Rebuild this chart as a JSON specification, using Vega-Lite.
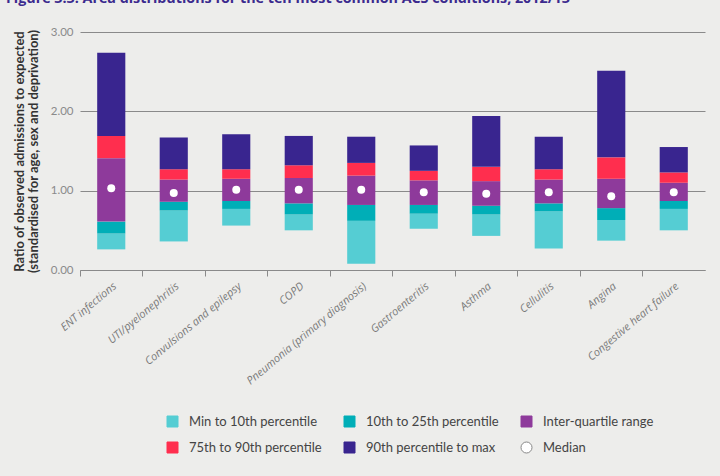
{
  "$schema": "https://vega.github.io/schema/vega-lite/v6.json",
  "width": 625,
  "height": 238,
  "autosize": "none",
  "padding": {"left": 80, "top": 32, "right": 15, "bottom": 206},
  "background": "#EDEDEB",
  "title": {
    "text": "Figure 3.3: Area distributions for the ten most common ACS conditions, 2012/13",
    "anchor": "start",
    "frame": "group",
    "offset": 20,
    "dx": -74,
    "font": "Open Sans",
    "fontSize": 14.3,
    "fontWeight": "bold",
    "color": "#3B2A8E"
  },
  "config": {
    "view": {"stroke": null},
    "font": "Lato"
  },
  "datasets": {
    "bars": [
      {"c": "ENT infections", "s": "Min to 10th percentile", "lo": 0.26, "hi": 0.46},
      {"c": "ENT infections", "s": "10th to 25th percentile", "lo": 0.46, "hi": 0.61},
      {"c": "ENT infections", "s": "Inter-quartile range", "lo": 0.61, "hi": 1.41},
      {"c": "ENT infections", "s": "75th to 90th percentile", "lo": 1.41, "hi": 1.69},
      {"c": "ENT infections", "s": "90th percentile to max", "lo": 1.69, "hi": 2.74},
      {"c": "UTI/pyelonephritis", "s": "Min to 10th percentile", "lo": 0.36, "hi": 0.75},
      {"c": "UTI/pyelonephritis", "s": "10th to 25th percentile", "lo": 0.75, "hi": 0.86},
      {"c": "UTI/pyelonephritis", "s": "Inter-quartile range", "lo": 0.86, "hi": 1.14},
      {"c": "UTI/pyelonephritis", "s": "75th to 90th percentile", "lo": 1.14, "hi": 1.27},
      {"c": "UTI/pyelonephritis", "s": "90th percentile to max", "lo": 1.27, "hi": 1.67},
      {"c": "Convulsions and epilepsy", "s": "Min to 10th percentile", "lo": 0.56, "hi": 0.77},
      {"c": "Convulsions and epilepsy", "s": "10th to 25th percentile", "lo": 0.77, "hi": 0.87},
      {"c": "Convulsions and epilepsy", "s": "Inter-quartile range", "lo": 0.87, "hi": 1.15},
      {"c": "Convulsions and epilepsy", "s": "75th to 90th percentile", "lo": 1.15, "hi": 1.27},
      {"c": "Convulsions and epilepsy", "s": "90th percentile to max", "lo": 1.27, "hi": 1.71},
      {"c": "COPD", "s": "Min to 10th percentile", "lo": 0.50, "hi": 0.70},
      {"c": "COPD", "s": "10th to 25th percentile", "lo": 0.70, "hi": 0.84},
      {"c": "COPD", "s": "Inter-quartile range", "lo": 0.84, "hi": 1.16},
      {"c": "COPD", "s": "75th to 90th percentile", "lo": 1.16, "hi": 1.32},
      {"c": "COPD", "s": "90th percentile to max", "lo": 1.32, "hi": 1.69},
      {"c": "Pneumonia (primary diagnosis)", "s": "Min to 10th percentile", "lo": 0.08, "hi": 0.62},
      {"c": "Pneumonia (primary diagnosis)", "s": "10th to 25th percentile", "lo": 0.62, "hi": 0.82},
      {"c": "Pneumonia (primary diagnosis)", "s": "Inter-quartile range", "lo": 0.82, "hi": 1.19},
      {"c": "Pneumonia (primary diagnosis)", "s": "75th to 90th percentile", "lo": 1.19, "hi": 1.35},
      {"c": "Pneumonia (primary diagnosis)", "s": "90th percentile to max", "lo": 1.35, "hi": 1.68},
      {"c": "Gastroenteritis", "s": "Min to 10th percentile", "lo": 0.52, "hi": 0.71},
      {"c": "Gastroenteritis", "s": "10th to 25th percentile", "lo": 0.71, "hi": 0.82},
      {"c": "Gastroenteritis", "s": "Inter-quartile range", "lo": 0.82, "hi": 1.13},
      {"c": "Gastroenteritis", "s": "75th to 90th percentile", "lo": 1.13, "hi": 1.25},
      {"c": "Gastroenteritis", "s": "90th percentile to max", "lo": 1.25, "hi": 1.57},
      {"c": "Asthma", "s": "Min to 10th percentile", "lo": 0.43, "hi": 0.70},
      {"c": "Asthma", "s": "10th to 25th percentile", "lo": 0.70, "hi": 0.81},
      {"c": "Asthma", "s": "Inter-quartile range", "lo": 0.81, "hi": 1.12},
      {"c": "Asthma", "s": "75th to 90th percentile", "lo": 1.12, "hi": 1.30},
      {"c": "Asthma", "s": "90th percentile to max", "lo": 1.30, "hi": 1.94},
      {"c": "Cellulitis", "s": "Min to 10th percentile", "lo": 0.27, "hi": 0.74},
      {"c": "Cellulitis", "s": "10th to 25th percentile", "lo": 0.74, "hi": 0.84},
      {"c": "Cellulitis", "s": "Inter-quartile range", "lo": 0.84, "hi": 1.14},
      {"c": "Cellulitis", "s": "75th to 90th percentile", "lo": 1.14, "hi": 1.27},
      {"c": "Cellulitis", "s": "90th percentile to max", "lo": 1.27, "hi": 1.68},
      {"c": "Angina", "s": "Min to 10th percentile", "lo": 0.37, "hi": 0.63},
      {"c": "Angina", "s": "10th to 25th percentile", "lo": 0.63, "hi": 0.78},
      {"c": "Angina", "s": "Inter-quartile range", "lo": 0.78, "hi": 1.15},
      {"c": "Angina", "s": "75th to 90th percentile", "lo": 1.15, "hi": 1.42},
      {"c": "Angina", "s": "90th percentile to max", "lo": 1.42, "hi": 2.51},
      {"c": "Congestive heart failure", "s": "Min to 10th percentile", "lo": 0.50, "hi": 0.77},
      {"c": "Congestive heart failure", "s": "10th to 25th percentile", "lo": 0.77, "hi": 0.87},
      {"c": "Congestive heart failure", "s": "Inter-quartile range", "lo": 0.87, "hi": 1.10},
      {"c": "Congestive heart failure", "s": "75th to 90th percentile", "lo": 1.10, "hi": 1.23},
      {"c": "Congestive heart failure", "s": "90th percentile to max", "lo": 1.23, "hi": 1.55}
    ],
    "medians": [
      {"c": "ENT infections", "s": "Median", "m": 1.03},
      {"c": "UTI/pyelonephritis", "s": "Median", "m": 0.97},
      {"c": "Convulsions and epilepsy", "s": "Median", "m": 1.01},
      {"c": "COPD", "s": "Median", "m": 1.01},
      {"c": "Pneumonia (primary diagnosis)", "s": "Median", "m": 1.01},
      {"c": "Gastroenteritis", "s": "Median", "m": 0.98},
      {"c": "Asthma", "s": "Median", "m": 0.96},
      {"c": "Cellulitis", "s": "Median", "m": 0.98},
      {"c": "Angina", "s": "Median", "m": 0.93},
      {"c": "Congestive heart failure", "s": "Median", "m": 0.98}
    ]
  },
  "layer": [
    {
      "data": {"name": "bars"},
      "mark": {"type": "bar", "width": {"band": 0.45}, "opacity": 1, "fillOpacity": 1},
      "encoding": {
        "x": {
          "field": "c",
          "type": "nominal",
          "sort": null,
          "scale": {"paddingInner": 0, "paddingOuter": 0},
          "axis": {
            "title": null,
            "bandPosition": 0,
            "labelAngle": -40,
            "labelFont": "Open Sans",
            "labelFontStyle": "italic",
            "labelFontSize": 11,
            "labelColor": "#7a7a7a",
            "labelLimit": 300,
            "labelPadding": 4,
            "domainColor": "#8a8a8a",
            "tickColor": "#8a8a8a",
            "tickSize": 6,
            "grid": false
          }
        },
        "y": {
          "field": "lo",
          "type": "quantitative",
          "scale": {"domain": [0, 3], "nice": false},
          "axis": {
            "title": ["Ratio of observed admissions to expected", "(standardised for age, sex and deprivation)"],
            "titleFont": "Lato",
            "titleFontSize": 13,
            "titleFontWeight": "bold",
            "titleColor": "#333333",
            "titlePadding": 10,
            "titleLineHeight": 14,
            "values": [0, 0.5, 1, 1.5, 2, 2.5, 3],
            "format": ".2f",
            "labelFont": "Lato",
            "labelFontSize": 11.5,
            "labelColor": "#8a8a8a",
            "labelPadding": 7,
            "domain": false,
            "ticks": false,
            "gridColor": "#8a8a8a",
            "gridWidth": 1
          }
        },
        "y2": {"field": "hi"},
        "fill": {
          "field": "s",
          "type": "nominal",
          "scale": {
            "domain": ["Min to 10th percentile", "10th to 25th percentile", "Inter-quartile range", "75th to 90th percentile", "90th percentile to max", "Median"],
            "range": ["#55CDD3", "#00AEB7", "#8E3A9B", "#FF2E4E", "#39258F", "#FFFFFF"]
          },
          "legend": {
            "title": null,
            "orient": "none",
            "legendX": 86,
            "legendY": 383,
            "direction": "horizontal",
            "columns": 3,
            "gridAlign": "all",
            "columnPadding": 20,
            "rowPadding": 11,
            "symbolSize": 121,
            "symbolStrokeWidth": 1,
            "symbolOpacity": 1,
            "symbolOffset": 0,
            "labelFont": "Lato",
            "labelFontSize": 13,
            "labelColor": "#444444",
            "labelOffset": 10,
            "labelLimit": 300
          }
        }
      }
    },
    {
      "data": {"name": "medians"},
      "mark": {"type": "point", "filled": true, "size": 64, "strokeWidth": 0, "opacity": 1, "fillOpacity": 1},
      "encoding": {
        "x": {"field": "c", "type": "nominal", "sort": null},
        "y": {"field": "m", "type": "quantitative"},
        "fill": {"field": "s", "type": "nominal"},
        "stroke": {
          "field": "s",
          "type": "nominal",
          "scale": {
            "domain": ["Min to 10th percentile", "10th to 25th percentile", "Inter-quartile range", "75th to 90th percentile", "90th percentile to max", "Median"],
            "range": ["#55CDD3", "#00AEB7", "#8E3A9B", "#FF2E4E", "#39258F", "#888888"]
          }
        },
        "shape": {
          "field": "s",
          "type": "nominal",
          "scale": {
            "domain": ["Min to 10th percentile", "10th to 25th percentile", "Inter-quartile range", "75th to 90th percentile", "90th percentile to max", "Median"],
            "range": ["square", "square", "square", "square", "square", "circle"]
          }
        }
      }
    }
  ]
}
